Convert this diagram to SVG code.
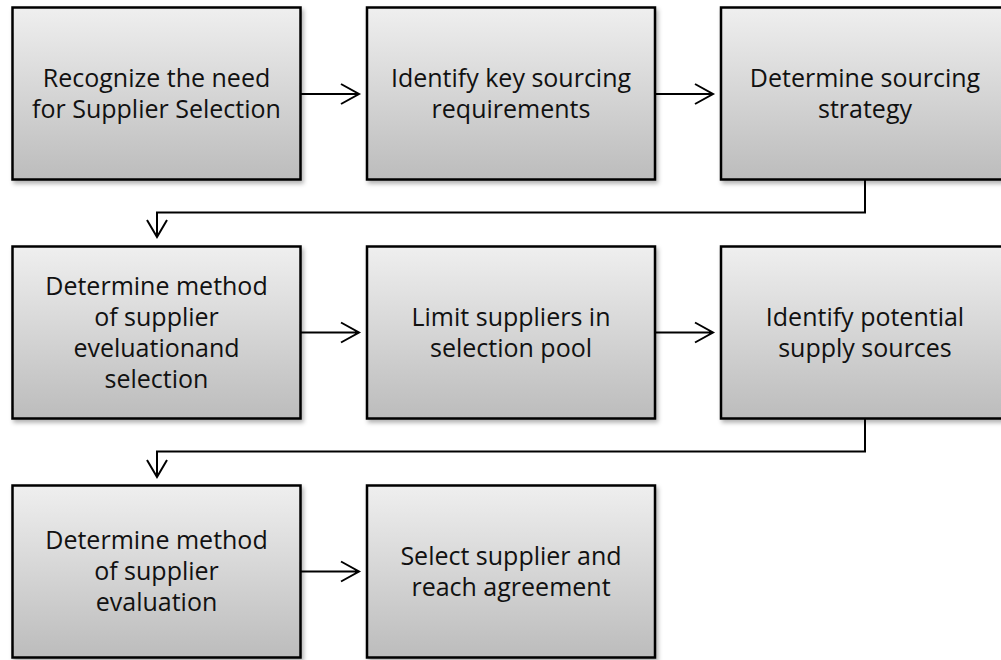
<svg xmlns="http://www.w3.org/2000/svg" width="1001" height="660" viewBox="0 0 1001 660">
  <defs>
    <linearGradient id="g" x1="0" y1="0" x2="0" y2="1">
      <stop offset="0" stop-color="#efefef"/>
      <stop offset="1" stop-color="#bcbcbc"/>
    </linearGradient>
    <filter id="sh" x="-5%" y="-5%" width="115%" height="120%">
      <feDropShadow dx="2" dy="3" stdDeviation="2" flood-color="#000" flood-opacity="0.3"/>
    </filter>
    <style>
      .box { fill: url(#g); stroke: #000; stroke-width: 2.5; filter: url(#sh); }
      .lbl { font-family: "Open Sans", "Liberation Sans", sans-serif; font-size: 25px; fill: #111; text-anchor: middle; }
      .con { fill: none; stroke: #000; stroke-width: 2; }
    </style>
  </defs>
  <rect width="1001" height="660" fill="#fff"/>

  <g id="connectors">
    <path class="con" d="M301 94 H359 M341 84 L359 94 L341 104"/>
    <path class="con" d="M655 94 H713 M695 84 L713 94 L695 104"/>
    <path class="con" d="M865 180 V212.5 H157 V237 M147 220 L157 237 L167 220"/>
    <path class="con" d="M301 332.5 H359 M341 322.5 L359 332.5 L341 342.5"/>
    <path class="con" d="M655 332.5 H713 M695 322.5 L713 332.5 L695 342.5"/>
    <path class="con" d="M865 419 V451.5 H157 V477 M147 460 L157 477 L167 460"/>
    <path class="con" d="M301 571.5 H359 M341 561.5 L359 571.5 L341 581.5"/>
  </g>

  <g id="n1">
    <rect class="box" x="12.5" y="7.5" width="288" height="172"/>
    <text class="lbl" x="156.5" y="86.5">Recognize the need</text>
    <text class="lbl" x="156.5" y="117.5">for Supplier Selection</text>
  </g>
  <g id="n2">
    <rect class="box" x="367" y="7.5" width="288" height="172"/>
    <text class="lbl" x="511" y="86.5">Identify key sourcing</text>
    <text class="lbl" x="511" y="117.5">requirements</text>
  </g>
  <g id="n3">
    <rect class="box" x="721" y="7.5" width="288" height="172"/>
    <text class="lbl" x="865" y="86.5">Determine sourcing</text>
    <text class="lbl" x="865" y="117.5">strategy</text>
  </g>

  <g id="n4">
    <rect class="box" x="12.5" y="246.5" width="288" height="172"/>
    <text class="lbl" x="156.5" y="294.5">Determine method</text>
    <text class="lbl" x="156.5" y="325.5">of supplier</text>
    <text class="lbl" x="156.5" y="356.5">eveluationand</text>
    <text class="lbl" x="156.5" y="387.5">selection</text>
  </g>
  <g id="n5">
    <rect class="box" x="367" y="246.5" width="288" height="172"/>
    <text class="lbl" x="511" y="325.5">Limit suppliers in</text>
    <text class="lbl" x="511" y="356.5">selection pool</text>
  </g>
  <g id="n6">
    <rect class="box" x="721" y="246.5" width="288" height="172"/>
    <text class="lbl" x="865" y="325.5">Identify potential</text>
    <text class="lbl" x="865" y="356.5">supply sources</text>
  </g>

  <g id="n7">
    <rect class="box" x="12.5" y="485.5" width="288" height="172"/>
    <text class="lbl" x="156.5" y="549">Determine method</text>
    <text class="lbl" x="156.5" y="580">of supplier</text>
    <text class="lbl" x="156.5" y="611">evaluation</text>
  </g>
  <g id="n8">
    <rect class="box" x="367" y="485.5" width="288" height="172"/>
    <text class="lbl" x="511" y="565">Select supplier and</text>
    <text class="lbl" x="511" y="596">reach agreement</text>
  </g>
</svg>
